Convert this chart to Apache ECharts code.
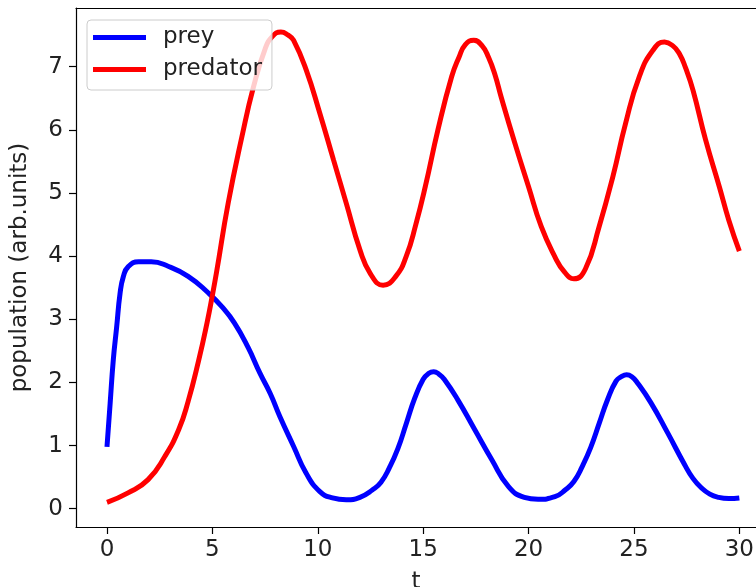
<!DOCTYPE html>
<html>
<head>
<meta charset="utf-8">
<script src="https://cdn.jsdelivr.net/npm/echarts@6/dist/echarts.min.js"></script>
<style>
  html, body { margin: 0; padding: 0; background: #fff; }
  #chart { width: 756px; height: 587px; }
</style>
</head>
<body>
<div id="chart"></div>
<script>
// time and value pairs for each curve
const preyT = [0, 0.15, 0.3, 0.46, 0.62, 0.78, 1.0, 1.5, 2.1, 2.9, 3.85, 4.8, 5.45, 6.05, 6.7, 7.25, 7.75, 8.2, 8.85, 9.45,
  10.1, 10.7, 11.35, 12.0, 12.6, 13.0, 13.4, 13.8, 14.2, 14.6, 15.0, 15.25, 15.5, 15.75, 16.0, 16.65, 17.45, 18.25, 19.05, 19.8,
  20.45, 21.25, 21.75, 22.15, 22.55, 22.95, 23.35, 23.75, 24.15, 24.4, 24.65, 24.9, 25.15, 25.8, 26.6, 27.4, 27.8, 28.2, 28.6, 29.0, 29.5, 30.0]
const prey = [0.98, 1.67, 2.36, 2.88, 3.41, 3.68, 3.83, 3.91, 3.91, 3.84, 3.68, 3.42, 3.2, 2.94, 2.55, 2.15, 1.82, 1.46, 0.99, 0.56,
  0.27, 0.17, 0.14, 0.18, 0.3, 0.42, 0.65, 0.95, 1.35, 1.75, 2.05, 2.14, 2.17, 2.13, 2.05, 1.72, 1.25, 0.78, 0.35, 0.18,
  0.15, 0.19, 0.3, 0.43, 0.67, 0.97, 1.35, 1.73, 2.02, 2.09, 2.12, 2.09, 2.0, 1.68, 1.2, 0.7, 0.48, 0.33, 0.23, 0.18, 0.16, 0.17]

const predT = [0, 1.0, 1.95, 2.75, 3.4, 3.85, 4.35, 4.75, 5.0, 5.2, 5.75, 6.4, 6.95, 7.5, 7.85, 8.25, 8.6, 8.85, 9.45, 10.1, 10.75, 11.35,
  12.0, 12.5, 13.1, 13.7, 14.2, 14.65, 15.1, 15.7, 16.35, 16.7, 17.0, 17.4, 17.8, 18.1, 18.4, 18.7, 19.35, 20.0, 20.6, 21.25, 21.7,
  22.15, 22.7, 23.35, 24.0, 24.6, 25.25, 25.9, 26.45, 26.85, 27.15, 27.45, 27.8, 28.4, 29.05, 29.5, 30.0]
const predator = [0.1, 0.25, 0.46, 0.83, 1.25, 1.7, 2.35, 2.95, 3.38, 3.75, 4.84, 5.89, 6.68, 7.28, 7.48, 7.55, 7.5, 7.42, 6.95, 6.26, 5.52, 4.84,
  4.1, 3.72, 3.54, 3.68, 4.0, 4.5, 5.1, 6.0, 6.84, 7.15, 7.35, 7.42, 7.33, 7.15, 6.88, 6.52, 5.79, 5.1, 4.47, 3.99, 3.75,
  3.64, 3.8, 4.47, 5.26, 6.1, 6.84, 7.26, 7.39, 7.33, 7.21, 6.98, 6.63, 5.84, 5.1, 4.57, 4.08]

const xTicks = [0, 5, 10, 15, 20, 25, 30]
const yTicks = [0, 1, 2, 3, 4, 5, 6, 7]

const font = 'DejaVu Sans'
const ink = '#222'
const fs = 23

function pairs(ts, vs) {
    return ts.map((t, i) => [t, vs[i]])
}

let myChart = echarts.init(document.getElementById('chart'))
myChart.setOption({
    animation: false,
    grid: {
        left: 76,
        top: 8,
        right: 0, // the right spine is cut off in the picture
        bottom: 60,
        outerBoundsMode: 'none'
    },
    legend: {
        left: 87,
        top: 20,
        orient: 'vertical',
        z: 10,
        icon: 'rect',
        itemWidth: 53,
        itemHeight: 5,
        itemGap: 9,
        padding: [6, 10, 9, 6],
        backgroundColor: 'rgba(255,255,255,0.8)',
        borderColor: '#cccccc',
        borderWidth: 1,
        borderRadius: 4,
        textStyle: {
            fontFamily: font,
            fontSize: fs,
            color: ink,
            padding: [0, 0, 0, 12]
        },
        data: ['prey', 'predator']
    },
    xAxis: [
        {
            type: 'value',
            min: -1.47,
            max: 30.79,
            name: 't',
            nameLocation: 'middle',
            nameGap: 44,
            nameTextStyle: { fontFamily: font, fontSize: fs, color: ink },
            splitLine: { show: false },
            axisLine: { onZero: false, lineStyle: { color: '#000', width: 1.2 } },
            axisTick: {
                customValues: xTicks,
                length: 7,
                lineStyle: { color: '#000', width: 1.2 }
            },
            axisLabel: {
                customValues: xTicks,
                margin: 12,
                fontFamily: font,
                fontSize: fs,
                color: ink
            }
        },
        {
            // top spine only
            type: 'value',
            position: 'top',
            min: -1.47,
            max: 30.79,
            splitLine: { show: false },
            axisLine: { show: true, onZero: false, lineStyle: { color: '#000', width: 1.2 } },
            axisTick: { show: false },
            axisLabel: { show: false }
        }
    ],
    yAxis: {
        type: 'value',
        min: -0.29,
        max: 7.93,
        name: 'population (arb.units)',
        nameLocation: 'middle',
        nameGap: 44,
        nameTextStyle: { fontFamily: font, fontSize: fs, color: ink },
        splitLine: { show: false },
        axisLine: { show: true, onZero: false, lineStyle: { color: '#000', width: 1.2 } },
        axisTick: {
            show: true,
            customValues: yTicks,
            length: 7,
            lineStyle: { color: '#000', width: 1.2 }
        },
        axisLabel: {
            customValues: yTicks,
            margin: 13,
            fontFamily: font,
            fontSize: fs,
            color: ink
        }
    },
    series: [
        {
            name: 'prey',
            type: 'line',
            data: pairs(preyT, prey),
            smooth: 0.5,
            showSymbol: false,
            color: '#0000ff',
            lineStyle: { width: 5, color: '#0000ff' }
        },
        {
            name: 'predator',
            type: 'line',
            data: pairs(predT, predator),
            smooth: 0.5,
            showSymbol: false,
            color: '#ff0000',
            lineStyle: { width: 5, color: '#ff0000' }
        }
    ]
})
</script>
</body>
</html>
